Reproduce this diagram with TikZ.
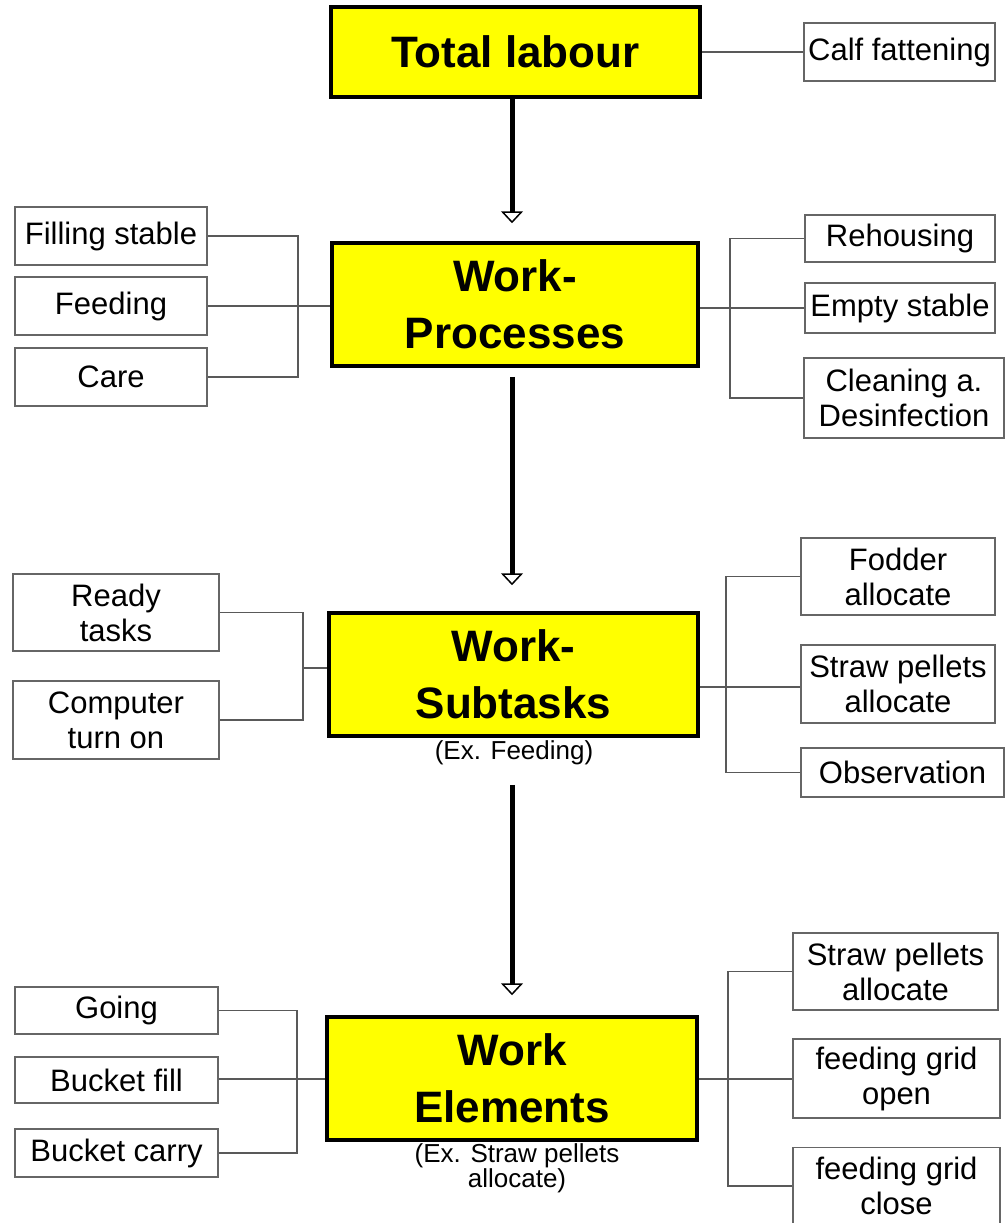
\documentclass[tikz,border=0pt]{standalone}
\usepackage{fontspec}
\setmainfont{Liberation Sans}
\usetikzlibrary{arrows.meta,positioning}

\definecolor{hilite}{RGB}{255,255,0}

\tikzset{
  level/.style={draw=black, line width=3.5pt, fill=hilite, align=center, inner sep=0pt,
    font=\fontsize{44}{57}\selectfont\bfseries},
  leaf/.style={draw=black!60, line width=1.3pt, fill=white, align=center, inner sep=0pt,
    font=\fontsize{31}{35}\selectfont},
  sz/.style 2 args={minimum width=#1pt, minimum height=#2pt},
  wire/.style={draw=black!65, line width=1.3pt},
  down/.style={line width=5pt, -{Triangle[open, width=22pt, length=12pt, line width=1.5pt]}},
  note/.style={align=center, inner sep=0pt, font=\fontsize{26}{22}\selectfont}
}

\begin{document}
\begin{tikzpicture}[x=1pt, y=-1pt]
  \useasboundingbox (0,0) rectangle (1005,1223);

  % the four levels
  \node[level, sz={369}{90}]  (total) at (515.5,52)   {Total labour};
  \node[level, sz={366}{123}] (proc)  at (515,304.5)  {Work-\\Processes};
  \node[level, sz={369}{123}] (sub)   at (513.5,674.5) {Work-\\Subtasks};
  \node[level, sz={370}{123}] (elem)  at (512,1078.5) {Work\\Elements};
  \node[note] (subex)  at (514,753)  {(Ex. Feeding)};
  \node[note] (elemex) at (517,1168) {(Ex. Straw pellets\\allocate)};

  % side boxes
  \node[leaf, sz={191}{58}] (calf) at (899.5,52) {Calf fattening};

  \node[leaf, sz={192}{58}] (fill) at (111,236) {Filling stable};
  \node[leaf, sz={192}{58}] (feed) at (111,306) {Feeding};
  \node[leaf, sz={192}{58}] (care) at (111,377) {Care};
  \node[leaf, sz={190}{47}] (reh)   at (900,238.5) {Rehousing};
  \node[leaf, sz={190}{50}] (empty) at (900,308)   {Empty stable};
  \node[leaf, sz={200}{80}] (clean) at (904,398)   {Cleaning a.\\Desinfection};

  \node[leaf, sz={206}{77}] (ready) at (116,612.5) {Ready\\tasks};
  \node[leaf, sz={206}{78}] (comp)  at (116,720)   {Computer\\turn on};
  \node[leaf, sz={194}{77}] (fodder) at (898,576.5) {Fodder\\allocate};
  \node[leaf, sz={194}{78}] (straw)  at (898,684)   {Straw pellets\\allocate};
  \node[leaf, sz={203}{49}] (obs)    at (902.5,772.5) {Observation};

  \node[leaf, sz={203}{47}] (going)  at (116.5,1010.5) {Going};
  \node[leaf, sz={203}{46}] (bfill)  at (116.5,1080)   {Bucket fill};
  \node[leaf, sz={203}{48}] (bcarry) at (116.5,1153)   {Bucket carry};
  \node[leaf, sz={205}{77}] (straw2) at (895.5,971.5) {Straw pellets\\allocate};
  \node[leaf, sz={207}{79}] (gopen)  at (896.5,1078.5) {feeding grid\\open};
  \node[leaf, sz={207}{77}] (gclose) at (896.5,1186)  {feeding grid\\close};

  % bus points
  \coordinate (procL) at (298,306);
  \coordinate (procR) at (730,308);
  \coordinate (subL)  at (303,668);
  \coordinate (subR)  at (726,687);
  \coordinate (elemL) at (297,1079);
  \coordinate (elemR) at (728,1079);
  \coordinate (ax)    at (512,0);

  % connectors
  \draw[wire] (total.east) -- (calf.west);

  \draw[wire] (fill.east) -| (procL) |- (care.east);
  \draw[wire] (feed.east) -- (procL -| proc.west);
  \draw[wire] (reh.west) -| (procR) |- (clean.west);
  \draw[wire] (empty.west) -- (procR -| proc.east);

  \draw[wire] (ready.east) -| (subL) |- (comp.east);
  \draw[wire] (subL) -- (subL -| sub.west);
  \draw[wire] (fodder.west) -| (subR) |- (obs.west);
  \draw[wire] (subR -| sub.east) -- (subR -| straw.west);

  \draw[wire] (going.east) -| (elemL) |- (bcarry.east);
  \draw[wire] (elemL -| bfill.east) -- (elemL -| elem.west);
  \draw[wire] (straw2.west) -| (elemR) |- (gclose.west);
  \draw[wire] (elemR -| elem.east) -- (elemR -| gopen.west);

  % main arrows
  \draw[down, shorten >=18pt] (total.south -| ax) -- (proc.north -| ax);
  \draw[down, shorten <=9pt, shorten >=26pt] (proc.south -| ax) -- (sub.north -| ax);
  \draw[down, shorten <=47pt, shorten >=20pt] (sub.south -| ax) -- (elem.north -| ax);
\end{tikzpicture}
\end{document}
